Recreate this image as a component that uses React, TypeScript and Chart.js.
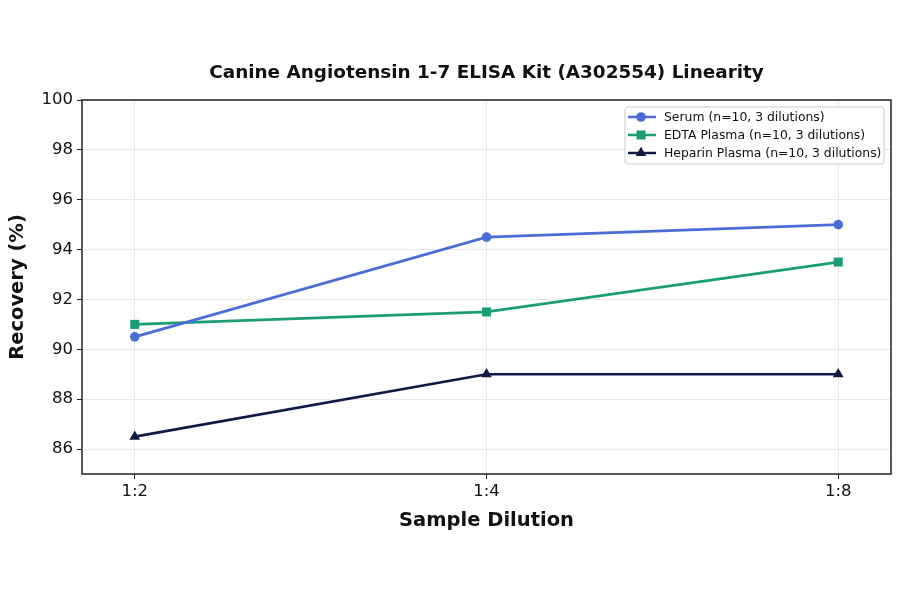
import { useEffect, useRef } from "react";
import { Chart, registerables } from "chart.js";

Chart.register(...registerables);

const chartTitle = "Canine Angiotensin 1-7 ELISA Kit (A302554) Linearity";
const categories = ["1:2", "1:4", "1:8"];
const serum = [90.5, 94.5, 95.0];
const edta = [91.0, 91.5, 93.5];
const heparin = [86.5, 89.0, 89.0];
const yTicks = [86, 88, 90, 92, 94, 96, 98, 100];
const seriesLabels = [
  "Serum (n=10, 3 dilutions)",
  "EDTA Plasma (n=10, 3 dilutions)",
  "Heparin Plasma (n=10, 3 dilutions)",
];
const seriesColors = ["#4B6DD6", "#1B9E77", "#0F1A45"];
const seriesMarkers = ["circle", "rect", "triangle"];
const seriesRadius = [4.8, 6.4, 6.2];

const FONT = "'DejaVu Sans', sans-serif";

function drawMarker(ctx: CanvasRenderingContext2D, style: string, x: number, y: number, r: number) {
  ctx.beginPath();
  if (style === "circle") {
    ctx.arc(x, y, r, 0, Math.PI * 2);
  } else if (style === "rect") {
    const s = Math.SQRT1_2 * r;
    ctx.rect(x - s, y - s, 2 * s, 2 * s);
  } else {
    ctx.moveTo(x, y - r);
    ctx.lineTo(x + Math.sin(Math.PI * 2 / 3) * r, y + r * 0.5);
    ctx.lineTo(x - Math.sin(Math.PI * 2 / 3) * r, y + r * 0.5);
    ctx.closePath();
  }
  ctx.fill();
}

const framePlugin = {
  id: "frameAndLegend",
  afterDraw(chart: any) {
    const { ctx, chartArea } = chart;
    ctx.save();
    ctx.strokeStyle = "#222222";
    ctx.lineWidth = 1.5;
    ctx.strokeRect(chartArea.left, chartArea.top, chartArea.right - chartArea.left, chartArea.bottom - chartArea.top);

    // title centred over the plot area
    ctx.fillStyle = "#111111";
    ctx.font = `bold 18.4px ${FONT}`;
    ctx.textAlign = "center";
    ctx.textBaseline = "middle";
    ctx.fillText(chartTitle, (chartArea.left + chartArea.right) / 2, chartArea.top - 27);

    // legend
    const bx = chartArea.right - 266;
    const by = chartArea.top + 7;
    const bw = 259;
    const bh = 57;
    ctx.beginPath();
    const rr = 3;
    ctx.moveTo(bx + rr, by);
    ctx.lineTo(bx + bw - rr, by);
    ctx.quadraticCurveTo(bx + bw, by, bx + bw, by + rr);
    ctx.lineTo(bx + bw, by + bh - rr);
    ctx.quadraticCurveTo(bx + bw, by + bh, bx + bw - rr, by + bh);
    ctx.lineTo(bx + rr, by + bh);
    ctx.quadraticCurveTo(bx, by + bh, bx, by + bh - rr);
    ctx.lineTo(bx, by + rr);
    ctx.quadraticCurveTo(bx, by, bx + rr, by);
    ctx.closePath();
    ctx.fillStyle = "rgba(255,255,255,0.85)";
    ctx.fill();
    ctx.strokeStyle = "#cccccc";
    ctx.lineWidth = 1;
    ctx.stroke();

    chart.data.datasets.forEach((ds: any, i: number) => {
      const y = by + 10 + i * 18;
      ctx.strokeStyle = ds.borderColor;
      ctx.lineWidth = 2.5;
      ctx.beginPath();
      ctx.moveTo(bx + 3, y);
      ctx.lineTo(bx + 31, y);
      ctx.stroke();
      ctx.fillStyle = ds.borderColor;
      drawMarker(ctx, ds.pointStyle, bx + 16, y, ds.pointRadius);
      ctx.fillStyle = "#111111";
      ctx.font = `12.4px ${FONT}`;
      ctx.textBaseline = "middle";
      ctx.textAlign = "left";
      ctx.fillText(ds.label, bx + 39, y + 0.5);
    });
    ctx.restore();
  },
};

export default function App() {
  const ref = useRef<HTMLCanvasElement | null>(null);

  useEffect(() => {
    document.body.style.margin = "0";
    if (!ref.current) return;
    const series = [serum, edta, heparin];
    const chart = new Chart(ref.current, {
      type: "line",
      data: {
        datasets: series.map((vals, i) => ({
          label: seriesLabels[i],
          data: vals.map((v, j) => ({ x: j, y: v })),
          borderColor: seriesColors[i],
          backgroundColor: seriesColors[i],
          pointBackgroundColor: seriesColors[i],
          pointBorderColor: seriesColors[i],
          pointBorderWidth: 0,
          pointStyle: seriesMarkers[i] as any,
          pointRadius: seriesRadius[i],
          pointHoverRadius: seriesRadius[i],
          borderWidth: 2.7,
          tension: 0,
        })),
      },
      options: {
        animation: false,
        responsive: false,
        devicePixelRatio: 1,
        layout: { padding: { left: 0, right: 9, top: 100, bottom: 61 } },
        plugins: {
          legend: { display: false },
          tooltip: { enabled: false },
          title: { display: false },
        },
        scales: {
          x: {
            type: "linear",
            min: -0.15,
            max: 2.15,
            afterBuildTicks: (scale: any) => {
              scale.ticks = categories.map((_, i) => ({ value: i }));
            },
            afterFit: (scale: any) => {
              scale.height = 59;
            },
            ticks: {
              callback: (v: any) => categories[v as number] ?? "",
              color: "#111111",
              font: { family: FONT, size: 16.5 },
              padding: 3,
            },
            grid: {
              color: "#e8e8e8",
              tickColor: "#222222",
              tickLength: 5,
              lineWidth: 1,
            },
            border: { display: false },
            title: {
              display: true,
              text: "Sample Dilution",
              color: "#111111",
              font: { family: FONT, size: 19.5, weight: "bold" },
              padding: 0,
            },
          },
          y: {
            type: "linear",
            min: 85,
            max: 100,
            afterBuildTicks: (scale: any) => {
              scale.ticks = yTicks.map((v) => ({ value: v }));
            },
            afterFit: (scale: any) => {
              scale.width = 82;
            },
            ticks: {
              color: "#111111",
              font: { family: FONT, size: 16.5 },
              padding: 4,
            },
            grid: {
              color: "#e8e8e8",
              tickColor: "#222222",
              tickLength: 5,
              lineWidth: 1,
            },
            border: { display: false },
            title: {
              display: true,
              text: "Recovery (%)",
              color: "#111111",
              font: { family: FONT, size: 19.5, weight: "bold" },
              padding: { top: 6, bottom: 0 },
            },
          },
        },
      },
      plugins: [framePlugin],
    });
    return () => chart.destroy();
  }, []);

  return (
    <div style={{ width: 900, height: 594, background: "#ffffff" }}>
      <canvas ref={ref} width={900} height={594} style={{ display: "block" }} />
    </div>
  );
}
